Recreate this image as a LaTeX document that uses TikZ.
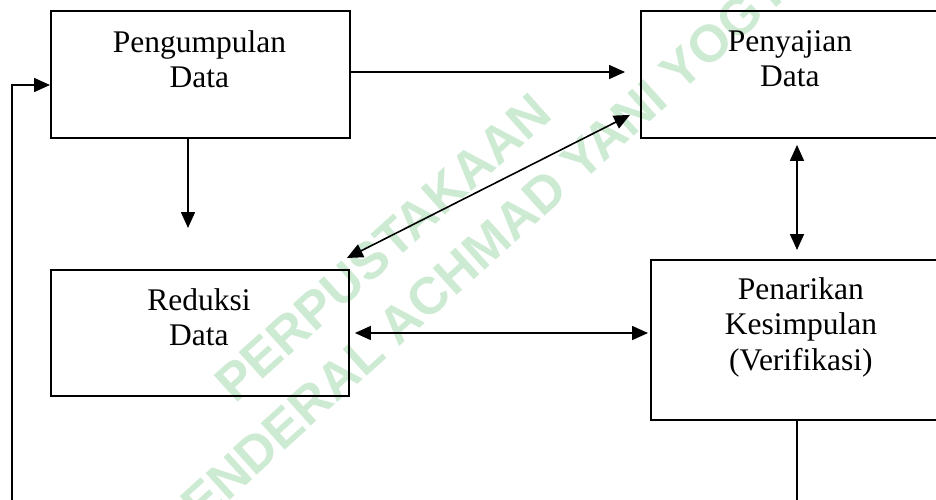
\documentclass[tikz,border=0pt]{standalone}
\usepackage{fontspec}
\setmainfont{Liberation Serif}
\newfontfamily\wmfont{Liberation Sans}
\usetikzlibrary{arrows.meta}
\definecolor{wmgreen}{RGB}{205,234,211}
\begin{document}
\begin{tikzpicture}[x=1pt,y=-1pt,
  box/.style={draw=black, line width=1.9pt, inner sep=0pt, anchor=north west},
  txt/.style={anchor=north, align=center, inner sep=0pt, font=\fontsize{31.5pt}{35.8pt}\selectfont},
  arr/.style={line width=1.6pt, -{Triangle[length=16pt,width=14pt]}},
  darr/.style={line width=1.6pt, {Triangle[length=16pt,width=14pt]}-{Triangle[length=16pt,width=14pt]}},
  plain/.style={line width=1.6pt},
  wm/.style={text=wmgreen, inner sep=0pt, font=\wmfont\bfseries\fontsize{52pt}{52pt}\selectfont, rotate=42, anchor=base west}]
\useasboundingbox (0,0) rectangle (936,499);
\fill[white] (0,0) rectangle (936,499);
% watermark
\begin{scope}
\clip (0,0) rectangle (936,499);
\node[wm] (wm1) at (235,405) {PERPUSTAKAAN};
\node[wm] (wm2) at (-88,786) {UNIVERSITAS JENDERAL ACHMAD YANI YOGYAKARTA};
\end{scope}
% boxes
\node[box, minimum width=299pt, minimum height=127pt] (b1) at (50,10) {};
\node[box, minimum width=298pt, minimum height=127pt] (b2) at (640,10) {};
\node[box, minimum width=300pt, minimum height=160pt] (b3) at (650,259) {};
\node[box, minimum width=298pt, minimum height=126pt] (b4) at (50,269) {};
% texts
\node[txt] (t1) at ([shift={(-1,20)}]b1.north) {Pengumpulan\\Data};
\node[txt] (t2) at ([shift={(0,20)}]b2.north) {Penyajian\\Data};
\node[txt] (t3) at ([shift={(0,18)}]b3.north) {Penarikan\\Kesimpulan\\(Verifikasi)};
\node[txt] (t4) at ([shift={(-1,19)}]b4.north) {Reduksi\\Data};
% helper coordinates
\coordinate (vx1) at (188,0);
\coordinate (vx2) at (797,0);
\coordinate (hy1) at (0,72);
\coordinate (hy2) at (0,333);
\coordinate (ly) at (0,85);
\coordinate (lx) at (12,0);
\coordinate (bot) at (0,502);
% connectors
\draw[arr, shorten >=15pt] (b1.east |- hy1) -- (b2.west |- hy1);
\draw[arr, shorten >=41pt] (b1.south -| vx1) -- (b4.north -| vx1);
\draw[darr] ([shift={(-3,-11)}]b4.north east) -- ([shift={(-10,-24)}]b2.south west);
\draw[darr, shorten <=6pt, shorten >=9pt] (b2.south -| vx2) -- (b3.north -| vx2);
\draw[darr, shorten <=5pt, shorten >=2pt] (b4.east |- hy2) -- (b3.west |- hy2);
\draw[plain] (b3.south -| vx2) -- (vx2 |- bot);
\draw[arr] (lx |- bot) |- (b1.west |- ly);
\end{tikzpicture}
\end{document}
